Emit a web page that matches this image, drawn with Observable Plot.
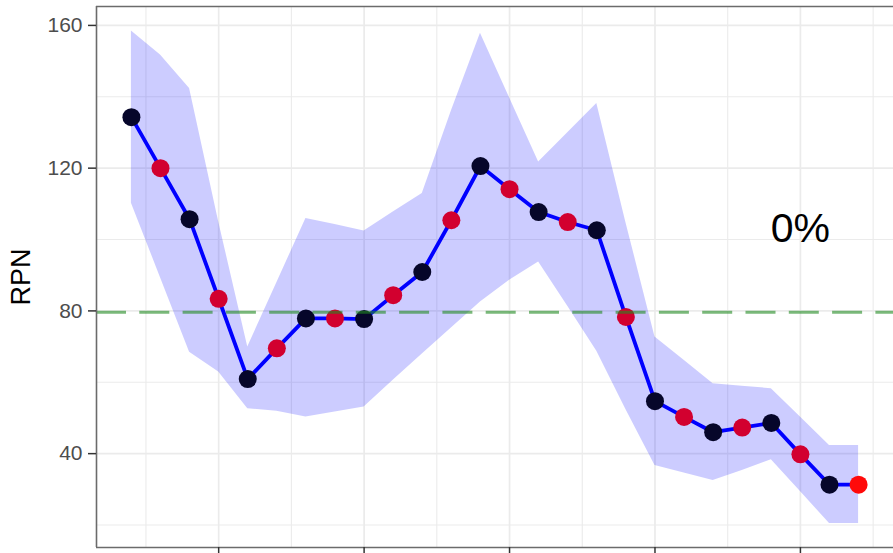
<!DOCTYPE html>
<html>
<head>
<meta charset="utf-8">
<script src="https://cdn.jsdelivr.net/npm/d3@7"></script>
<script src="https://cdn.jsdelivr.net/npm/@observablehq/plot@0.6"></script>
<style>
  html, body { margin: 0; padding: 0; overflow: hidden; background: #fff; }
  #chart svg { display: block; }
</style>
</head>
<body>
<div id="chart"></div>
<script>
// ---- data ----
const xs    = [2, 3, 4, 5, 6, 7, 8, 9, 10, 11, 12, 13, 14, 15, 16, 17, 18, 19, 20, 21, 22, 23, 24, 25, 26, 27];
const rpn   = [134.3, 120.0, 105.7, 83.4, 60.9, 69.5, 77.9, 77.9, 77.7, 84.4, 90.9, 105.4, 120.6, 114.1, 107.7, 104.9, 102.6, 78.3, 54.7, 50.3, 46.0, 47.3, 48.6, 39.8, 31.3, 31.3];
const lower = [110.2, 89.3, 68.4, 62.9, 52.6, 51.9, 50.3, 51.7, 53.1, 60.6, 67.9, 75.2, 82.5, 88.6, 93.7, 81.3, 68.7, 52.4, 36.7, 34.6, 32.5, 35.3, 38.3, 29.4, 20.4, 20.4];
const upper = [158.4, 151.7, 142.3, 105.0, 69.9, 87.9, 105.9, 104.2, 102.4, 107.7, 112.9, 136.0, 157.8, 139.7, 121.7, 129.9, 138.1, 104.8, 72.7, 66.2, 59.6, 58.9, 58.2, 50.3, 42.3, 42.3];
const group = ["A","B","A","B","A","B","A","B","A","B","A","B","A","B","A","B","A","B","A","B","A","B","A","B","A","C"];
const refValue = 79.6;
const annotationText = "0%";
const annotationX = 25;
const annotationY = 102.9;
const yTicks = [40, 80, 120, 160];
const yMinor = [20, 60, 100, 140];
const xTicks = [5, 10, 15, 20, 25];
const xMinor = [2.5, 7.5, 12.5, 17.5, 22.5, 27.5];
const xDomain = [0.8, 28.2];
const yDomain = [13.7, 165.3];
const yTitle = "RPN";

const data = xs.map((x, i) => ({x, rpn: rpn[i], lower: lower[i], upper: upper[i], group: group[i]}));

const chart = Plot.plot({
  width: 893,
  height: 553,
  marginLeft: 96,
  marginRight: 0,
  marginTop: 6,
  marginBottom: 6,
  style: {fontFamily: "'Liberation Sans', Arial, sans-serif", background: "#fff"},
  x: {domain: xDomain, label: null},
  y: {domain: yDomain, label: null},
  color: {domain: ["A", "B", "C"], range: ["#06062a", "#d2002f", "#ff0a0a"]},
  marks: [
    Plot.gridY(yMinor, {stroke: "#ebebeb", strokeOpacity: 1, strokeWidth: 1.1}),
    Plot.gridX(xMinor, {stroke: "#ebebeb", strokeOpacity: 1, strokeWidth: 1.1}),
    Plot.gridY(yTicks, {stroke: "#ebebeb", strokeOpacity: 1, strokeWidth: 1.7}),
    Plot.gridX(xTicks, {stroke: "#ebebeb", strokeOpacity: 1, strokeWidth: 1.7}),
    Plot.areaY(data, {x: "x", y1: "lower", y2: "upper", fill: "#0000ff", fillOpacity: 0.2}),
    Plot.lineY(data, {x: "x", y: "rpn", stroke: "#0000ff", strokeWidth: 3.8}),
    Plot.dot(data, {x: "x", y: "rpn", r: 9, fill: "group", stroke: null}),
    Plot.ruleY([refValue], {stroke: "#228b22", strokeOpacity: 0.6, strokeWidth: 3, strokeDasharray: "30,13.3"}),
    Plot.text([annotationText], {x: annotationX, y: annotationY, text: d => d, fontSize: 41, fill: "#000"}),
    Plot.ruleY([yDomain[0], yDomain[1]], {stroke: "#6b6b6b", strokeWidth: 1.6}),
    Plot.ruleX([xDomain[0]], {stroke: "#6b6b6b", strokeWidth: 1.6}),
    Plot.axisY(yTicks, {tickSize: 8, tickPadding: 6, fontSize: 21, fill: "#4d4d4d", stroke: "#333", strokeWidth: 1.5, label: null}),
    Plot.axisX(xTicks, {tickSize: 8, tickFormat: () => "", stroke: "#333", strokeWidth: 1.5, label: null}),
    Plot.text([yTitle], {frameAnchor: "left", textAnchor: "middle", text: d => d, rotate: -90, dx: -75, fontSize: 27, fill: "#000"})
  ]
});
document.getElementById("chart").appendChild(chart);
</script>
</body>
</html>
